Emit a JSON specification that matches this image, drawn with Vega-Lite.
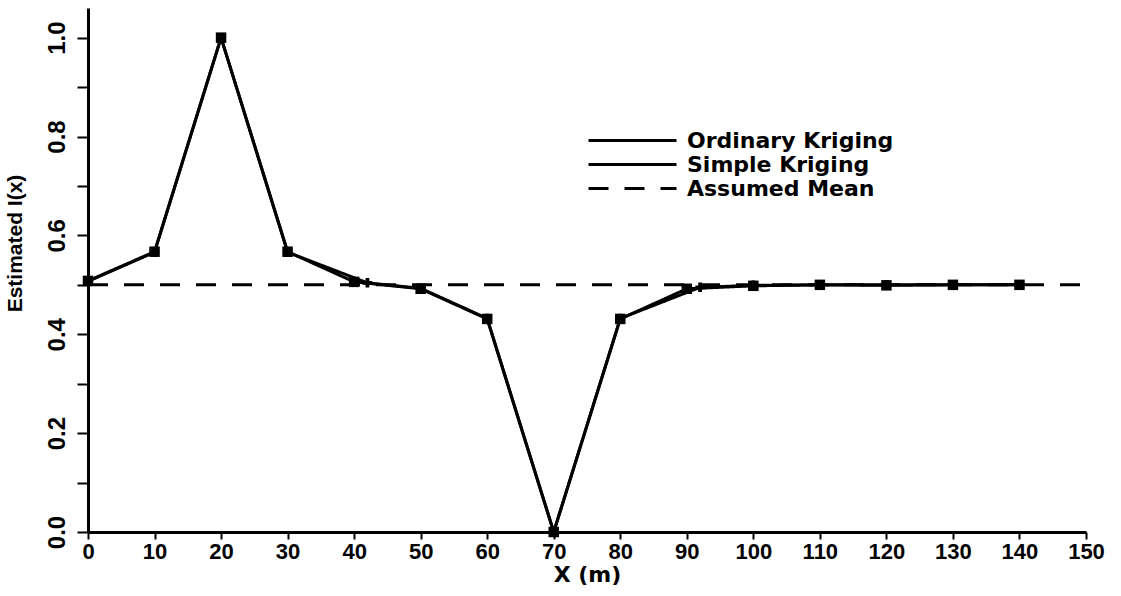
{
  "$schema": "https://vega.github.io/schema/vega-lite/v6.json",
  "width": 998,
  "height": 524,
  "autosize": "none",
  "padding": {"left": 88, "top": 8, "right": 35, "bottom": 64},
  "background": "white",
  "config": {"view": {"stroke": null}},
  "datasets": {
    "lines": [
      {"series": "Ordinary Kriging", "x": 0, "y": 0.508},
      {"series": "Ordinary Kriging", "x": 10, "y": 0.567},
      {"series": "Ordinary Kriging", "x": 20, "y": 1.0},
      {"series": "Ordinary Kriging", "x": 30, "y": 0.567},
      {"series": "Ordinary Kriging", "x": 40, "y": 0.506},
      {"series": "Ordinary Kriging", "x": 50, "y": 0.492},
      {"series": "Ordinary Kriging", "x": 60, "y": 0.431},
      {"series": "Ordinary Kriging", "x": 70, "y": 0.0},
      {"series": "Ordinary Kriging", "x": 80, "y": 0.431},
      {"series": "Ordinary Kriging", "x": 90, "y": 0.492},
      {"series": "Ordinary Kriging", "x": 100, "y": 0.498},
      {"series": "Ordinary Kriging", "x": 110, "y": 0.5},
      {"series": "Ordinary Kriging", "x": 120, "y": 0.499},
      {"series": "Ordinary Kriging", "x": 130, "y": 0.5},
      {"series": "Ordinary Kriging", "x": 140, "y": 0.5},
      {"series": "Simple Kriging", "x": 0, "y": 0.507},
      {"series": "Simple Kriging", "x": 10, "y": 0.566},
      {"series": "Simple Kriging", "x": 20, "y": 1.0},
      {"series": "Simple Kriging", "x": 30, "y": 0.566},
      {"series": "Simple Kriging", "x": 42, "y": 0.504},
      {"series": "Simple Kriging", "x": 50, "y": 0.493},
      {"series": "Simple Kriging", "x": 60, "y": 0.432},
      {"series": "Simple Kriging", "x": 70, "y": 0.0},
      {"series": "Simple Kriging", "x": 80, "y": 0.432},
      {"series": "Simple Kriging", "x": 92, "y": 0.495},
      {"series": "Simple Kriging", "x": 100, "y": 0.499},
      {"series": "Simple Kriging", "x": 110, "y": 0.5},
      {"series": "Simple Kriging", "x": 120, "y": 0.5},
      {"series": "Simple Kriging", "x": 130, "y": 0.5},
      {"series": "Simple Kriging", "x": 140, "y": 0.5},
      {"series": "Assumed Mean", "x": 0, "y": 0.5},
      {"series": "Assumed Mean", "x": 150, "y": 0.5}
    ]
  },
  "data": {"name": "lines"},
  "encoding": {
    "x": {
      "field": "x", "type": "quantitative",
      "scale": {"domain": [0, 150], "nice": false, "zero": false},
      "axis": {
        "title": "X  (m)",
        "values": [0, 10, 20, 30, 40, 50, 60, 70, 80, 90, 100, 110, 120, 130, 140, 150],
        "grid": false,
        "domainColor": "black", "domainWidth": 3,
        "tickColor": "black", "tickWidth": 2, "tickSize": 7,
        "labelFont": "Liberation Sans",
        "labelFontSize": 22, "labelFontWeight": "bold", "labelColor": "black",
        "labelPadding": 2, "labelFlush": false, "labelOverlap": false,
        "titleFont": "DejaVu Sans", "titleFontSize": 22, "titleFontWeight": "bold",
        "titleColor": "black", "titlePadding": 2
      }
    },
    "y": {
      "field": "y", "type": "quantitative",
      "scale": {"domain": [0, 1.06], "nice": false, "zero": false},
      "axis": {
        "title": "Estimated  I(x)",
        "values": [0, 0.1, 0.2, 0.3, 0.4, 0.5, 0.6, 0.7, 0.8, 0.9, 1.0],
        "format": ".1f",
        "labelExpr": "round(datum.value*10) % 2 == 0 ? datum.label : ''",
        "grid": false,
        "domainColor": "black", "domainWidth": 3,
        "tickColor": "black", "tickWidth": 2, "tickSize": 11,
        "labelAngle": 270,
        "labelFont": "Liberation Sans",
        "labelFontSize": 24, "labelFontWeight": "bold", "labelColor": "black",
        "labelPadding": 8, "labelFlush": false, "labelOverlap": false,
        "titleFont": "Liberation Sans",
        "titleFontSize": 21, "titleFontWeight": "bold", "titleColor": "black",
        "titleX": -63, "titleY": 235, "titleBaseline": "bottom", "titleAngle": 270
      }
    }
  },
  "layer": [
    {
      "mark": {"type": "line", "color": "black", "strokeWidth": 3},
      "encoding": {
        "detail": {"field": "series"},
        "strokeDash": {
          "field": "series", "type": "nominal",
          "scale": {
            "domain": ["Ordinary Kriging", "Simple Kriging", "Assumed Mean"],
            "range": [[1, 0], [1, 0], [20, 16]]
          },
          "legend": {
            "title": null,
            "orient": "none",
            "legendX": 532,
            "legendY": 120,
            "padding": 0,
            "symbolType": "M-4,0H4",
            "symbolSize": 484,
            "symbolStrokeWidth": 3,
            "symbolStrokeColor": "black",
            "symbolFillColor": "transparent",
            "labelFont": "DejaVu Sans",
            "labelFontSize": 22,
            "labelFontWeight": "bold",
            "labelColor": "black",
            "labelOffset": 42,
            "rowPadding": 0,
            "labelLimit": 400
          }
        }
      }
    },
    {
      "transform": [{"filter": "datum.series == 'Simple Kriging'"}],
      "mark": {"type": "point", "shape": "cross", "filled": true, "color": "black", "size": 90, "opacity": 1}
    },
    {
      "transform": [{"filter": "datum.series == 'Ordinary Kriging'"}],
      "mark": {"type": "square", "color": "black", "size": 110, "opacity": 1}
    }
  ]
}
